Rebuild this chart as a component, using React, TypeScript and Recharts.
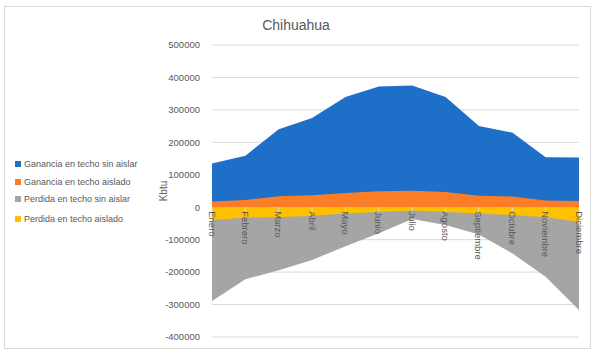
import React from 'react';
import { AreaChart, Area, XAxis, YAxis, CartesianGrid } from 'recharts';

const months = ['Enero', 'Febrero', 'Marzo', 'Abril', 'Mayo', 'Junio', 'Julio', 'Agosto', 'Septiembre', 'Octubre', 'Noviembre', 'Diciembre'];
const gananciaSinAislar = [135000, 159000, 240000, 275000, 340000, 372000, 375000, 340000, 250000, 230000, 154000, 153000];
const gananciaAislado = [18000, 22000, 34000, 37000, 44000, 49000, 51000, 47000, 35000, 33000, 21000, 19000];
const perdidaSinAislar = [-289000, -222000, -194000, -163000, -120000, -80000, -36000, -55000, -84000, -142000, -214000, -317000];
const perdidaAislado = [-40000, -32000, -31000, -26000, -19000, -15000, -10000, -15000, -19000, -24000, -31000, -45000];
const yTicks = [-400000, -300000, -200000, -100000, 0, 100000, 200000, 300000, 400000, 500000];

const seriesNames = ['Ganancia en techo sin aislar', 'Ganancia en techo aislado', 'Perdida en techo sin aislar', 'Perdida en techo aislado'];
const colors = ['#1e6fc8', '#fb7d28', '#a5a5a5', '#ffc000'];

const data = months.map((m, i) => ({
  month: m,
  gsa: gananciaSinAislar[i],
  ga: gananciaAislado[i],
  psa: perdidaSinAislar[i],
  pa: perdidaAislado[i],
}));

const W = 600;
const H = 358;
const XAXIS_H = 20;
const MARGIN = { top: 45, right: 21, bottom: 1, left: 160 };
const Y_MIN = -400000;
const Y_MAX = 500000;
const plotTop = MARGIN.top;
const plotBottom = H - MARGIN.bottom - XAXIS_H;
const zeroY = plotTop + ((Y_MAX - 0) / (Y_MAX - Y_MIN)) * (plotBottom - plotTop);

const FONT = '"Liberation Sans", Arial, sans-serif';

const MonthTick = (props: any) => {
  const { x, payload } = props;
  return (
    <g>
      <line x1={x} x2={x} y1={zeroY} y2={zeroY + 4} stroke="#d9d9d9" />
      <text
        x={0}
        y={0}
        transform={`translate(${x - 3.5},${zeroY + 4}) rotate(90)`}
        fontSize={9.5}
        fill="#595959"
        fontFamily={FONT}
        textAnchor="start"
      >
        {payload.value}
      </text>
    </g>
  );
};

const legendRows = [164, 182, 199, 219];

export default function App() {
  return (
    <div style={{ position: 'absolute', left: 0, top: 0, width: W, height: H, background: '#fff', fontFamily: FONT }}>
      <div style={{ position: 'absolute', left: 4, top: 6, width: 587, height: 343, border: '1px solid #d9d9d9', boxSizing: 'border-box' }} />
      <div style={{ position: 'absolute', left: 0, width: 592, top: 17, textAlign: 'center', fontSize: 14, color: '#595959' }}>Chihuahua</div>
      {seriesNames.map((n, i) => (
        <div key={n} style={{ position: 'absolute', left: 15, top: legendRows[i] - 6, height: 12, display: 'flex', alignItems: 'center', fontSize: 9, color: '#595959', whiteSpace: 'nowrap' }}>
          <span style={{ display: 'inline-block', width: 6, height: 6, background: colors[i], marginRight: 3 }} />
          {n}
        </div>
      ))}
      <div style={{ position: 'absolute', left: 0, top: 0 }}>
        <AreaChart width={W} height={H} data={data} margin={MARGIN}>
          <CartesianGrid vertical={false} stroke="#d9d9d9" />
          <YAxis
            domain={[Y_MIN, Y_MAX]}
            ticks={yTicks}
            width={52}
            axisLine={false}
            tickLine={false}
            tick={{ fontSize: 9.5, fill: '#595959', fontFamily: FONT }}
            tickMargin={6}
            label={{ value: 'Kbtu', angle: -90, position: 'insideLeft', offset: 3, style: { fontSize: 10, fill: '#595959', fontFamily: FONT, textAnchor: 'middle' } }}
          />
          <Area type="linear" dataKey="gsa" name={seriesNames[0]} stroke="none" fill={colors[0]} fillOpacity={1} isAnimationActive={false} dot={false} activeDot={false} />
          <Area type="linear" dataKey="ga" name={seriesNames[1]} stroke="none" fill={colors[1]} fillOpacity={1} isAnimationActive={false} dot={false} activeDot={false} />
          <Area type="linear" dataKey="psa" name={seriesNames[2]} stroke="none" fill={colors[2]} fillOpacity={1} isAnimationActive={false} dot={false} activeDot={false} />
          <Area type="linear" dataKey="pa" name={seriesNames[3]} stroke="none" fill={colors[3]} fillOpacity={1} isAnimationActive={false} dot={false} activeDot={false} />
          <XAxis
            dataKey="month"
            height={XAXIS_H}
            axisLine={false}
            tickLine={false}
            tick={(p: any) => <MonthTick {...p} />}
            interval={0}
          />
        </AreaChart>
      </div>
    </div>
  );
}
